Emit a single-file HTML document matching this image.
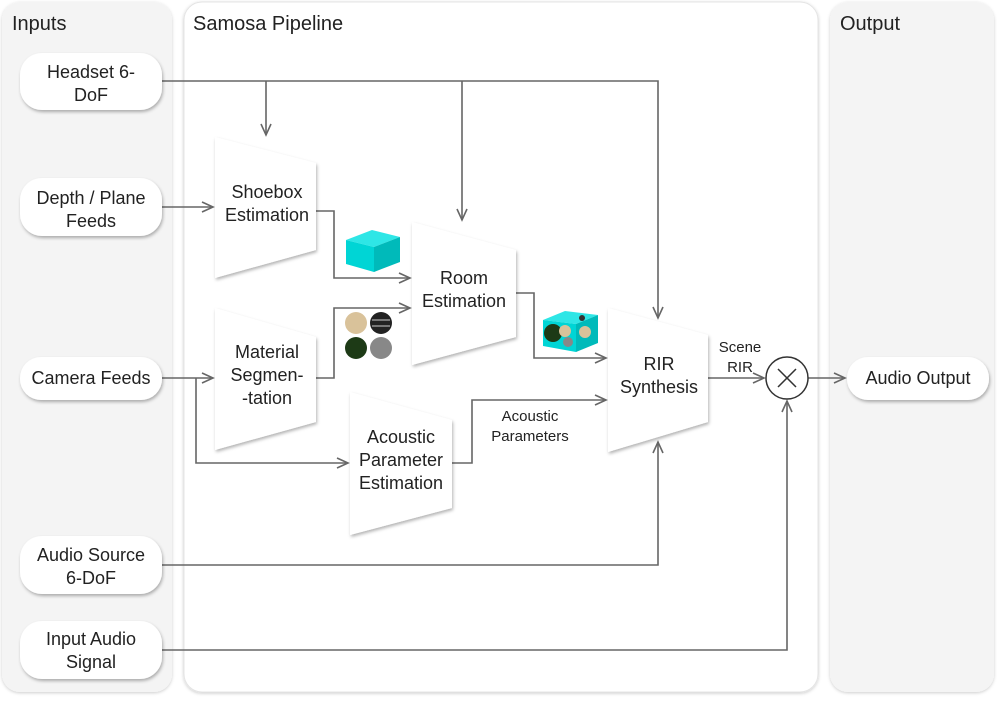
<!DOCTYPE html>
<html><head><meta charset="utf-8"><style>
body{margin:0;width:997px;height:698px;background:#fff;overflow:hidden}
svg text{font-family:"Liberation Sans",sans-serif;fill:#222}
</style></head><body>
<svg width="997" height="698" viewBox="0 0 997 698" xmlns="http://www.w3.org/2000/svg">
<defs>
<filter id="sh" x="-20%" y="-20%" width="140%" height="150%"><feDropShadow dx="1" dy="2" stdDeviation="1.5" flood-color="#000" flood-opacity="0.3"/></filter>
<filter id="ps" x="-5%" y="-5%" width="110%" height="110%"><feDropShadow dx="0" dy="1" stdDeviation="1.5" flood-color="#000" flood-opacity="0.2"/></filter>
<marker id="a" markerWidth="14" markerHeight="12" refX="12" refY="6" orient="auto" markerUnits="userSpaceOnUse"><path d="M1,1 L12,6 L1,11" fill="none" stroke="#666" stroke-width="1.6"/></marker>
</defs>
<rect x="2" y="2" width="170" height="690" rx="18" fill="#f4f4f4" filter="url(#ps)"/>
<rect x="184" y="2" width="634" height="690" rx="18" fill="#fff" stroke="#e4e4e4" filter="url(#ps)"/>
<rect x="830" y="2" width="164" height="690" rx="18" fill="#f4f4f4" filter="url(#ps)"/>
<text x="12" y="30" font-size="20">Inputs</text>
<text x="193" y="30" font-size="20">Samosa Pipeline</text>
<text x="840" y="30" font-size="20">Output</text>

<g fill="none" stroke="#666" stroke-width="1.6">
<path d="M162,81 H658 V318" marker-end="url(#a)"/>
<path d="M266,81 V135" marker-end="url(#a)"/>
<path d="M462,81 V220" marker-end="url(#a)"/>
<path d="M162,207 H213" marker-end="url(#a)"/>
<path d="M316,211 H334 V278 H410" marker-end="url(#a)"/>
<path d="M316,378 H334 V308 H410" marker-end="url(#a)"/>
<path d="M162,378 H213" marker-end="url(#a)"/>
<path d="M196,378 V463 H348" marker-end="url(#a)"/>
<path d="M516,293 H534 V358 H606" marker-end="url(#a)"/>
<path d="M452,463 H472 V400 H606" marker-end="url(#a)"/>
<path d="M708,378 H764" marker-end="url(#a)"/>
<path d="M808,378 H845" marker-end="url(#a)"/>
<path d="M162,565 H658 V442" marker-end="url(#a)"/>
<path d="M162,650 H787 V401" marker-end="url(#a)"/>
</g>

<g fill="#fff" filter="url(#sh)">
<rect x="20" y="53" width="142" height="57" rx="22"/>
<rect x="20" y="178" width="142" height="58" rx="22"/>
<rect x="20" y="357" width="142" height="43" rx="21"/>
<rect x="20" y="536" width="142" height="58" rx="22"/>
<rect x="20" y="621" width="142" height="58" rx="22"/>
<rect x="847" y="357" width="142" height="43" rx="21"/>
<polygon points="215,137 316,163 316,250 215,278"/>
<polygon points="215,308 316,337 316,422 215,450"/>
<polygon points="412,222 516,250 516,337 412,365"/>
<polygon points="350,392 452,420 452,508 350,535"/>
<polygon points="608,308 708,335 708,422 608,452"/>
</g>

<circle cx="787" cy="378" r="21" fill="#fff" stroke="#333" stroke-width="1.5"/>
<path d="M778,369 L796,387 M796,369 L778,387" stroke="#333" stroke-width="1.5"/>

<!-- cube -->
<polygon points="346,240 372,230 400,237 374,247" fill="#2ee6e6"/>
<polygon points="346,240 374,247 374,272 346,264" fill="#00d5d5"/>
<polygon points="374,247 400,237 400,262 374,272" fill="#00baba"/>
<!-- spheres -->
<circle cx="356" cy="323" r="11" fill="#d9c29a"/>
<circle cx="381" cy="323" r="11" fill="#222"/>
<path d="M372,320 H390 M372,326 H390" stroke="#ccc" stroke-width="1"/>
<circle cx="356" cy="348" r="11" fill="#1d3a16"/>
<circle cx="381" cy="348" r="11" fill="#888"/>
<!-- textured cube -->
<polygon points="543,320 565,311 598,315 576,324" fill="#2ee6e6"/>
<polygon points="543,320 576,324 576,352 543,346" fill="#00d5d5"/>
<polygon points="576,324 598,315 598,343 576,352" fill="#00baba"/>
<circle cx="553" cy="333" r="9" fill="#1d3a16"/>
<circle cx="565" cy="331" r="6" fill="#d9c29a"/>
<circle cx="585" cy="332" r="6" fill="#d9c29a"/>
<circle cx="568" cy="342" r="5" fill="#888"/>
<circle cx="582" cy="318" r="3" fill="#333"/>

<g font-size="18" text-anchor="middle">
<text x="91" y="78">Headset 6-</text><text x="91" y="101">DoF</text>
<text x="91" y="204">Depth / Plane</text><text x="91" y="227">Feeds</text>
<text x="91" y="384">Camera Feeds</text>
<text x="91" y="561">Audio Source</text><text x="91" y="584">6-DoF</text>
<text x="91" y="645">Input Audio</text><text x="91" y="668">Signal</text>
<text x="918" y="384">Audio Output</text>
<text x="267" y="198">Shoebox</text><text x="267" y="221">Estimation</text>
<text x="267" y="358">Material</text><text x="267" y="381">Segmen-</text><text x="267" y="404">-tation</text>
<text x="464" y="284">Room</text><text x="464" y="307">Estimation</text>
<text x="401" y="443">Acoustic</text><text x="401" y="466">Parameter</text><text x="401" y="489">Estimation</text>
<text x="659" y="370">RIR</text><text x="659" y="393">Synthesis</text>
</g>
<g font-size="15" text-anchor="middle">
<text x="740" y="352">Scene</text><text x="740" y="372">RIR</text>
<text x="530" y="421">Acoustic</text><text x="530" y="441">Parameters</text>
</g>
</svg>
</body></html>
